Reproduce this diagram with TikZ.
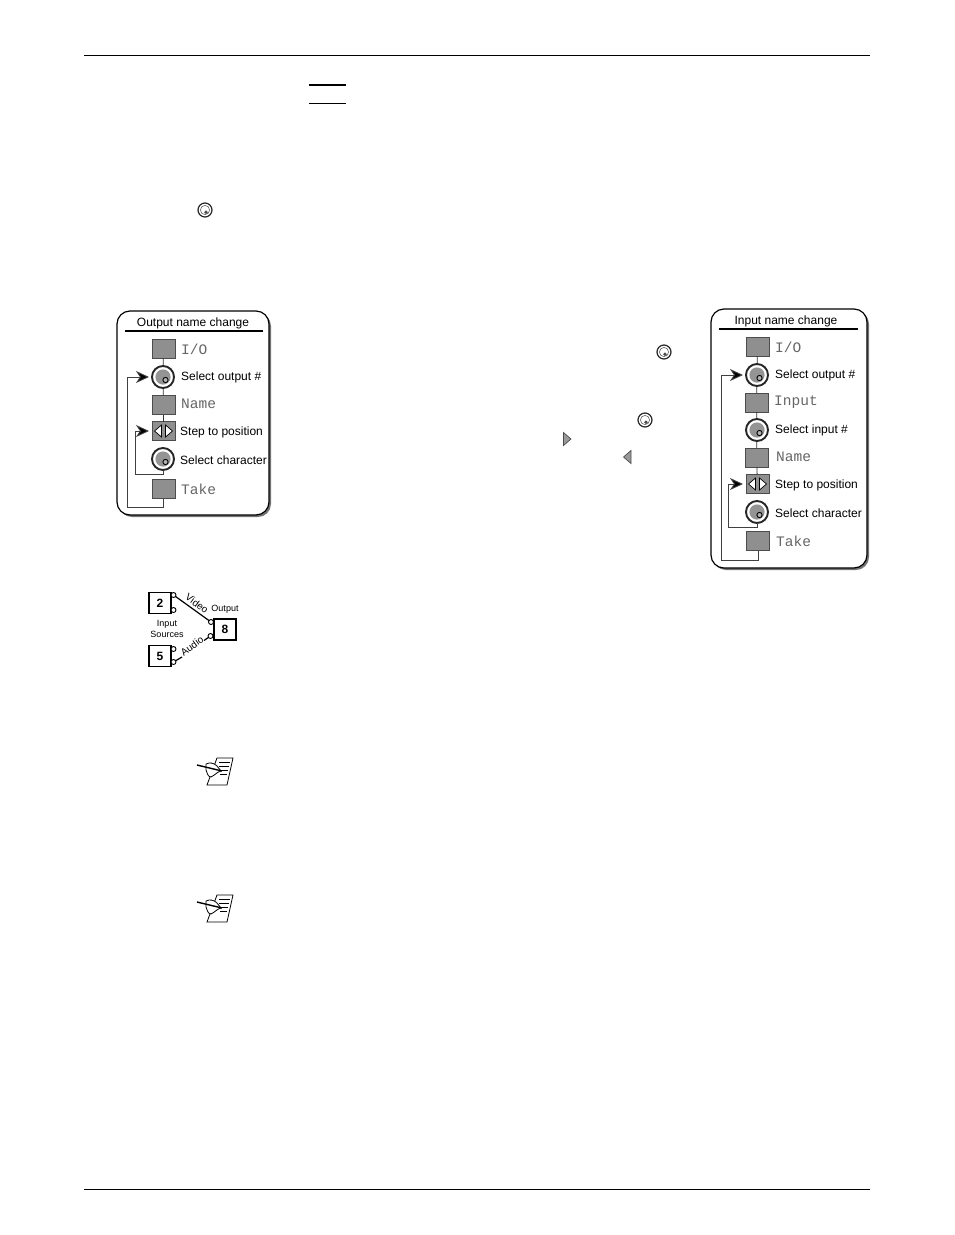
\documentclass[tikz,border=0pt]{standalone}
\usepackage{fontspec}
\setmainfont{Liberation Sans}
\newfontfamily\lcdfont{Liberation Mono}
\usetikzlibrary{arrows.meta}
\definecolor{btn}{gray}{0.56}
\tikzset{
  rule/.style={line width=#1,black},
  panel/.style={draw=black,line width=1.2pt,fill=white,rounded corners=13pt},
  panelshadow/.style={fill=black!55,rounded corners=13pt},
  btnbox/.style={draw=black!70,line width=.7pt,fill=btn,inner sep=0pt,outer sep=0pt,minimum width=23pt,minimum height=19pt},
  knobbody/.style={circle,draw=black!85,line width=1.9pt,fill=white,inner sep=0pt,outer sep=0pt,minimum size=22pt},
  lab/.style={font=\fontsize{12}{14}\selectfont,anchor=west,inner sep=0pt,text=black},
  lcd/.style={font=\lcdfont\fontsize{14.5}{15}\selectfont,anchor=west,inner sep=0pt,text=black!60},
  title/.style={font=\fontsize{12}{14}\selectfont,inner sep=0pt},
  link/.style={draw=black!80,line width=.8pt},
  loopline/.style={draw=black!75,line width=.9pt,-{Stealth[length=13pt,width=12pt,inset=4pt,fill=black]},shorten >=3pt},
  srcbox/.style={draw=black,line width=1.6pt,fill=white,inner sep=0pt,outer sep=0pt,minimum width=22pt,minimum height=21pt,font=\bfseries\fontsize{12}{14}\selectfont},
  port/.style={circle,draw=black,line width=.9pt,fill=white,inner sep=0pt,outer sep=0pt,minimum size=5pt},
  wire/.style={draw=black,line width=1.2pt},
  tiny/.style={font=\fontsize{9}{10}\selectfont,inner sep=0pt},
  slanted/.style={font=\fontsize{10}{10}\selectfont,inner sep=0pt},
  smallknob/.style={circle,draw=black!85,line width=1.2pt,fill=white,inner sep=0pt,outer sep=0pt,minimum size=14pt},
  tri/.style={draw=black!70,line width=.7pt,fill=black!40},
}
\newcommand\bigknob[3]{%
  \node[knobbody] (#1) at (#2,#3) {};
  \fill[black!42] (#2,#3) circle (7.6pt);
  \draw[black,line width=.9pt,fill=black!30] (#2+2.5,#3+3) circle (2.6pt);
}
\newcommand\miniknob[3]{%
  \node[smallknob] (#1) at (#2,#3) {};
  \draw[black!60,line width=.6pt] (#2,#3) circle (4.6pt);
  \fill[black!70] (#2+1,#3+2.2) circle (1.9pt);
}
\newcommand\stepmarks[2]{%
  \draw[black,line width=.7pt,fill=white] (#1-2,#2-6) -- (#1-2,#2+6) -- (#1-9,#2) -- cycle;
  \draw[black,line width=.7pt,fill=white] (#1+2,#2-6) -- (#1+2,#2+6) -- (#1+9,#2) -- cycle;
}
\newcommand\noteicon[2]{%
  \begin{scope}[shift={(#1,#2)}]
    \draw[black,line width=.8pt,fill=white] (2,-13) -- (18,-13) -- (12,14) -- (-8,14) -- cycle;
    \draw[black,line width=.6pt] (4,-9) -- (15,-9) (4,-5) -- (14,-5) (6,-1) -- (13,-1) (5,3) -- (12,3);
    \draw[black,line width=.8pt,fill=white] (-9,-7) .. controls (-5,-9) and (-1,-8) .. (2,-5) -- (6,0) .. controls (2,1) and (0,4) .. (-4,6) .. controls (-7,6) and (-8,2) .. (-9,-1) -- cycle;
    \draw[black,line width=1.4pt] (-18,-6) -- (7,0);
  \end{scope}
}
\begin{document}
\begin{tikzpicture}[x=1pt,y=-1pt]
\useasboundingbox (0,0) rectangle (954,1235);
% page rules
\draw[rule=.9pt] (84,55) -- (870,55);
\draw[rule=.9pt] (84,1189) -- (870,1189);
\draw[rule=1.8pt] (309,85) -- (346,85);
\draw[rule=.9pt] (309,103) -- (346,103);
% inline icons
\miniknob{ka}{205}{210}
\miniknob{kb}{664}{352}
\miniknob{kc}{645}{420}
\draw[tri] (563.5,432.5) -- (571,439) -- (563.5,445.5) -- cycle;
\draw[tri] (631,450.5) -- (623.5,457) -- (631,463.5) -- cycle;
\noteicon{215}{771}
\noteicon{215}{908}
% left panel
\fill[panelshadow] (119,313) rectangle (271,517);
\draw[panel] (117,311) rectangle (269,515);
\node[title] (ot) at (193,323.5) {Output name change};
\draw[rule=1.5pt] (125,331) -- (263,331);
\node[btnbox] (oio) at (163.5,348.5) {};
\bigknob{oka}{163}{377}
\node[btnbox] (ona) at (163.5,405) {};
\node[btnbox] (ost) at (163.5,431) {};
\stepmarks{163.5}{431}
\bigknob{okb}{163}{459}
\node[btnbox] (ota) at (163.5,489) {};
\node[lcd] (l1) at (181,349) {I/O};
\node[lab] (l2) at (181,377) {Select output \#};
\node[lcd] (l3) at (181,404) {Name};
\node[lab] (l4) at (180,432) {Step to position};
\node[lab] (l5) at (180,460) {Select character};
\node[lcd] (l6) at (181,489) {Take};
\draw[link] (oio) -- (oka);
\draw[link] (oka) -- (ona);
\draw[link] (ona) -- (ost);
\coordinate (oa) at (127,507);
\coordinate (ob) at (135,474);
\draw[loopline] (ota.south) |- (oa) |- (oka.west);
\draw[loopline] (okb.south) |- (ob) |- (ost.west);
% right panel
\fill[panelshadow] (713,311) rectangle (869,570);
\draw[panel] (711,309) rectangle (867,568);
\node[title] (it) at (786,321.5) {Input name change};
\draw[rule=1.5pt] (719,329) -- (858,329);
\node[btnbox] (iio) at (757.5,346.5) {};
\bigknob{ika}{757}{375}
\node[btnbox] (iin) at (756.5,402.5) {};
\bigknob{ikb}{757}{430}
\node[btnbox] (ina) at (756.5,457.5) {};
\node[btnbox] (ist) at (757.5,484) {};
\stepmarks{757.5}{484}
\bigknob{ikc}{757}{512}
\node[btnbox] (ita) at (758,541) {};
\node[lcd] (r1) at (775,347) {I/O};
\node[lab] (r2) at (775,375) {Select output \#};
\node[lcd] (r3) at (774,402) {Input};
\node[lab] (r4) at (775,430) {Select input \#};
\node[lcd] (r5) at (776,457) {Name};
\node[lab] (r6) at (775,485) {Step to position};
\node[lab] (r7) at (775,513) {Select character};
\node[lcd] (r8) at (776,541) {Take};
\draw[link] (iio) -- (ika);
\draw[link] (ika) -- (iin);
\draw[link] (iin) -- (ikb);
\draw[link] (ikb) -- (ina);
\draw[link] (ina) -- (ist);
\coordinate (ia) at (721,560);
\coordinate (ib) at (728,527);
\draw[loopline] (ita.south) |- (ia) |- (ika.west);
\draw[loopline] (ikc.south) |- (ib) |- (ist.west);
% routing sketch
\node[srcbox] (s2) at (160,603) {2};
\node[srcbox] (s5) at (160,656) {5};
\node[srcbox] (s8) at (225,629.5) {8};
\node[port] (p1) at (173.5,595) {};
\node[port] (p2) at (173.5,610) {};
\node[port] (p3) at (173.5,649) {};
\node[port] (p4) at (173.5,662) {};
\node[port] (p5) at (211,622) {};
\node[port] (p6) at (210.5,636) {};
\coordinate (w1) at (182,657);
\coordinate (w2) at (204,640.5);
\draw[wire] (p1) -- (p5);
\draw[wire] (p4) -- (w1);
\draw[wire] (w2) -- (p6);
\node[slanted,rotate=-36] (tv) at (197,603.5) {Video};
\node[slanted,rotate=36] (ta) at (192,646) {Audio};
\node[tiny] (tout) at (225,609) {Output};
\node[tiny] (ti1) at (167,624) {Input};
\node[tiny] (ti2) at (167,634) {Sources};
\end{tikzpicture}
\end{document}
